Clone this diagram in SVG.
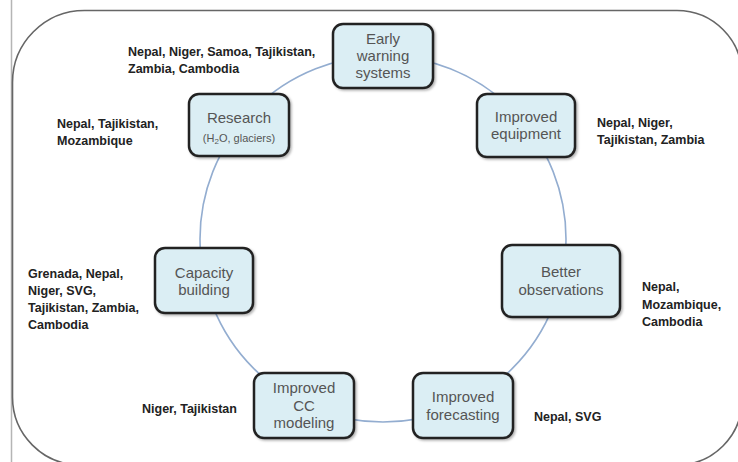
<svg xmlns="http://www.w3.org/2000/svg" width="738" height="462" viewBox="0 0 738 462">
<defs>
<filter id="sh" x="-10%" y="-10%" width="130%" height="130%">
<feDropShadow dx="1.5" dy="1.5" stdDeviation="1.2" flood-color="#000" flood-opacity="0.3"/>
</filter>
<style>
.box{fill:#dbeef4;stroke:#222;stroke-width:2.5;filter:url(#sh)}
.nt{font-family:"Liberation Sans",Arial,sans-serif;font-size:15px;fill:#555;text-anchor:middle}
.sm{font-size:11px}
.lb{font-family:"Liberation Sans",Arial,sans-serif;font-size:12.5px;font-weight:bold;fill:#222}
.ring{fill:none;stroke:#93add0;stroke-width:1.6}
</style>
</defs>
<rect width="738" height="462" fill="#fff"/>
<line x1="11.5" y1="0" x2="11.5" y2="462" stroke="#b5b5b5" stroke-width="1.5"/>
<path d="M12.5,83 A72,72 0 0 1 84.5,10.5 L677,10.5 A65,65 0 0 1 742,75.5 L742,400 A65,65 0 0 1 677,465 L80.5,465 A68,68 0 0 1 12.5,397 Z" fill="none" stroke="#666" stroke-width="1.6"/>
<g id="connectors">
<circle class="ring" cx="383" cy="239" r="183"/>
</g>
<g id="early-warning">
<rect class="box" x="333" y="24" width="100" height="64" rx="10"/>
<text class="nt" x="383" y="44">Early</text>
<text class="nt" x="383" y="61">warning</text>
<text class="nt" x="383" y="78">systems</text>
</g>
<g id="improved-equipment">
<rect class="box" x="477" y="94" width="98" height="63" rx="10"/>
<text class="nt" x="526" y="122">Improved</text>
<text class="nt" x="526" y="139">equipment</text>
</g>
<g id="better-observations">
<rect class="box" x="502" y="245" width="118" height="72" rx="10"/>
<text class="nt" x="561" y="277">Better</text>
<text class="nt" x="561" y="295">observations</text>
</g>
<g id="improved-forecasting">
<rect class="box" x="413" y="373" width="100" height="65" rx="10"/>
<text class="nt" x="463" y="402">Improved</text>
<text class="nt" x="463" y="420">forecasting</text>
</g>
<g id="improved-cc-modeling">
<rect class="box" x="254" y="373" width="100" height="65" rx="10"/>
<text class="nt" x="304" y="393">Improved</text>
<text class="nt" x="304" y="411">CC</text>
<text class="nt" x="304" y="428">modeling</text>
</g>
<g id="capacity-building">
<rect class="box" x="155" y="248" width="98" height="65" rx="10"/>
<text class="nt" x="204" y="278">Capacity</text>
<text class="nt" x="204" y="295">building</text>
</g>
<g id="research">
<rect class="box" x="189" y="94" width="100" height="62" rx="10"/>
<text class="nt" x="239" y="123">Research</text>
<text class="nt sm" x="239" y="142">(H<tspan font-size="8" dy="2">2</tspan><tspan dy="-2">O, glaciers)</tspan></text>
</g>
<g id="labels">
<text class="lb" x="128" y="56">Nepal, Niger, Samoa, Tajikistan,</text>
<text class="lb" x="128" y="73">Zambia, Cambodia</text>
<text class="lb" x="57" y="128">Nepal, Tajikistan,</text>
<text class="lb" x="57" y="145">Mozambique</text>
<text class="lb" x="597" y="127">Nepal, Niger,</text>
<text class="lb" x="597" y="144">Tajikistan, Zambia</text>
<text class="lb" x="28" y="278">Grenada, Nepal,</text>
<text class="lb" x="28" y="295">Niger, SVG,</text>
<text class="lb" x="28" y="312">Tajikistan, Zambia,</text>
<text class="lb" x="28" y="329">Cambodia</text>
<text class="lb" x="642" y="291">Nepal,</text>
<text class="lb" x="642" y="309">Mozambique,</text>
<text class="lb" x="642" y="326">Cambodia</text>
<text class="lb" x="142" y="413">Niger, Tajikistan</text>
<text class="lb" x="534" y="421">Nepal, SVG</text>
</g>
</svg>
